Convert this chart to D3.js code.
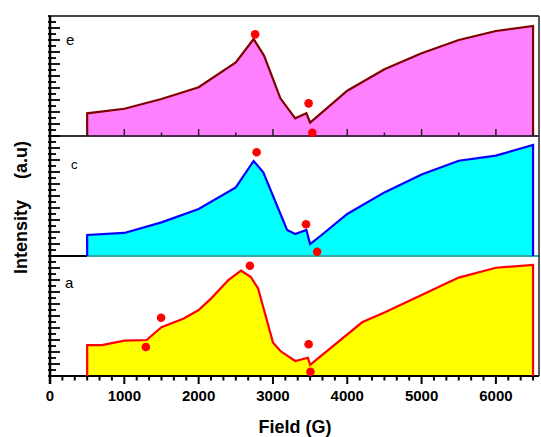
<!DOCTYPE html>
<html><head><meta charset="utf-8">
<script src="https://cdn.jsdelivr.net/npm/d3@7"></script>
<style>body{margin:0;background:#fff}svg{display:block}text{font-family:Arial,"Liberation Sans",sans-serif}</style>
</head><body><svg id="c" width="541" height="437"></svg>
<script>
// ---- data ----
const fieldE = [500,1000,1500,2000,2500,2740,2880,3100,3300,3450,3500,4000,4500,5000,5500,6000,6500];
const intE   = [18.9,22.7,30.8,40.6,61.4,80.8,67,31.4,14.7,18.9,11.1,37.7,55.6,68.9,80,87.5,91.7];
const dotFieldE = [2760,3480,3530];
const dotIntE   = [84.7,27.2,2.7];

const fieldC = [500,1000,1500,2000,2500,2740,2870,3190,3300,3450,3500,3655,4000,4500,5000,5500,6000,6500];
const intC   = [17.5,19.2,28,39.2,57.2,79.2,69.7,21.7,18.3,21.7,10,17.5,35,53,68,79.4,83.6,92.5];
const dotFieldC = [2780,3445,3595];
const dotIntC   = [86.4,26.4,3.6];

const fieldA = [500,700,1000,1300,1500,1800,2000,2170,2400,2570,2700,2800,3000,3100,3300,3470,3500,4200,4500,5000,5500,6000,6500];
const intA   = [25.8,25.8,29.4,30,40.6,48,55,64.7,80,87.75,82.75,73,28,20.8,12.5,15.2,9.2,44.75,53,67.5,82,90.2,92.5];
const dotFieldA = [1290,1495,2690,3480,3505];
const dotIntA   = [24.2,48.6,91.9,26.4,3.6];

const panelNames = ["e","c","a"];
const xTickLabels = [0,1000,2000,3000,4000,5000,6000];
const xLabel = "Field (G)";
const yLabel = "Intensity";
const yUnit = "(a.u)";

// ---- layout ----
const svg = d3.select("#c");
const mLeft = 50, mRight = 539, mTop = 16, ph = 120;
const x = d3.scaleLinear().domain([0,6580]).range([mLeft,mRight]);

const panels = [
  {name:panelNames[0], f:fieldE, v:intE, df:dotFieldE, dv:dotIntE, fill:"#ff80ff", line:"#800000", base:"#4a2a4a"},
  {name:panelNames[1], f:fieldC, v:intC, df:dotFieldC, dv:dotIntC, fill:"#00ffff", line:"#0000ff", base:"#30a8a8"},
  {name:panelNames[2], f:fieldA, v:intA, df:dotFieldA, dv:dotIntA, fill:"#ffff00", line:"#ff0000", base:"#000"}
];

panels.forEach((p,i)=>{
  const b = mTop + ph*(i+1);
  const y = d3.scaleLinear().domain([0,100]).range([b, b-ph]);
  const pts = p.f.map((f,k)=>[f,p.v[k]]);
  const g = svg.append("g");
  const area = d3.area().x(d=>x(d[0])).y0(y(0)).y1(d=>y(d[1]));
  g.append("path").attr("d",area(pts)).attr("fill",p.fill);
  // baseline
  g.append("line").attr("x1",mLeft).attr("x2",x(p.f[0])).attr("y1",b).attr("y2",b)
    .attr("stroke", i===0?"#333":"#000").attr("stroke-width",2);
  g.append("line").attr("x1",x(p.f[0])).attr("x2",mRight).attr("y1",b).attr("y2",b)
    .attr("stroke", p.base).attr("stroke-width",2);
  // series line with vertical ends
  const linePts = [[p.f[0],0]].concat(pts,[[p.f[p.f.length-1],0]]);
  const line = d3.line().x(d=>x(d[0])).y(d=>y(d[1]));
  g.append("path").attr("d",line(linePts)).attr("fill","none").attr("stroke",p.line)
    .attr("stroke-width",2.2).attr("stroke-linejoin","miter");
  // left ticks
  d3.range(0,101,5).forEach(t=>{
    const long = (t%10===0);
    g.append("line").attr("x1",mLeft-2).attr("x2",mLeft+(long?10:6))
      .attr("y1",y(t)).attr("y2",y(t)).attr("stroke","#000").attr("stroke-width",1.8);
  });
  // panel label
  g.append("text").attr("x", [66,71,65][i]).attr("y", [45,169,288][i])
    .attr("font-size", i===1?13:15).text(p.name);
  // top panel axis ticks (inside, upward)
  if(i===0){
    d3.range(500,6600,500).forEach(t=>{
      const major = t%1000===0;
      g.append("line").attr("x1",x(t)).attr("x2",x(t)).attr("y1",b).attr("y2",b-(major?7:3.5))
        .attr("stroke","#222").attr("stroke-width",1.5);
    });
  }
  // dots
  p.df.forEach((f,k)=>{
    g.append("circle").attr("cx",x(f)).attr("cy",y(p.dv[k])).attr("r",4.3).attr("fill","#ff0000");
  });
});

// frame: top and right
svg.append("line").attr("x1",mLeft).attr("x2",mRight).attr("y1",mTop).attr("y2",mTop)
  .attr("stroke","#444").attr("stroke-width",1.8);
svg.append("line").attr("x1",mRight).attr("x2",mRight).attr("y1",mTop).attr("y2",mTop+3*ph)
  .attr("stroke","#333").attr("stroke-width",1.6);
// left axis line
svg.append("line").attr("x1",mLeft).attr("x2",mLeft).attr("y1",mTop).attr("y2",mTop+3*ph+8)
  .attr("stroke","#000").attr("stroke-width",2.5);

// bottom axis ticks
const mBottom = mTop+3*ph;
d3.range(0,40).forEach(k=>{
  const t = k*1000/6;
  const major = k%6===0;
  svg.append("line").attr("x1",x(t)).attr("x2",x(t)).attr("y1",mBottom).attr("y2",mBottom+(major?8:4.5))
    .attr("stroke","#000").attr("stroke-width",2);
});
xTickLabels.forEach(t=>{
  svg.append("text").attr("x",x(t)).attr("y",401).attr("text-anchor","middle")
    .attr("font-size",15).attr("font-weight","bold").text(t);
});
svg.append("text").attr("x",295).attr("y",433).attr("text-anchor","middle")
  .attr("font-size",18).attr("font-weight","bold").text(xLabel);
svg.append("text").attr("transform","translate(27,237) rotate(-90)").attr("text-anchor","middle")
  .attr("font-size",18).attr("font-weight","bold").text(yLabel);
svg.append("text").attr("transform","translate(27,160) rotate(-90)").attr("text-anchor","middle")
  .attr("font-size",18).attr("font-weight","bold").text(yUnit);
</script></body></html>
